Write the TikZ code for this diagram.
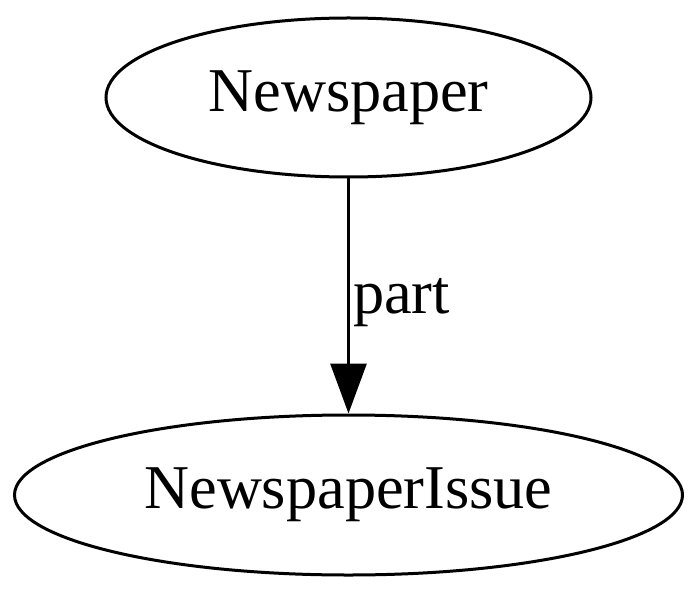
\documentclass[tikz,border=0pt]{standalone}
\usepackage{fontspec}
\setmainfont{Liberation Serif}
\usetikzlibrary{arrows.meta, shapes.geometric}

\tikzset{
    entity/.style={draw, ellipse, line width=1.5pt, inner sep=0pt, font=\fontsize{31.15}{36}\selectfont},
    rel/.style={line width=1.5pt, -{Triangle[length=25pt, width=18pt]}},
    rellabel/.style={font=\fontsize{31.15}{36}\selectfont, inner sep=0pt, anchor=west}
}

\begin{document}
\begin{tikzpicture}[x=0.5pt, y=-0.5pt]
        \useasboundingbox (0,0) rectangle (700,593);
        \node[entity, minimum width=242.5pt, minimum height=79.5pt] (paper) at (348.5,97.5) {Newspaper};
        \node[entity, minimum width=334pt, minimum height=80pt] (issue) at (348.5,495) {NewspaperIssue};

        % edge
        \draw[rel] (paper.south) -- node[rellabel, xshift=1.5pt, yshift=-3.5pt] {part} (issue.north);
    \end{tikzpicture}
\end{document}
